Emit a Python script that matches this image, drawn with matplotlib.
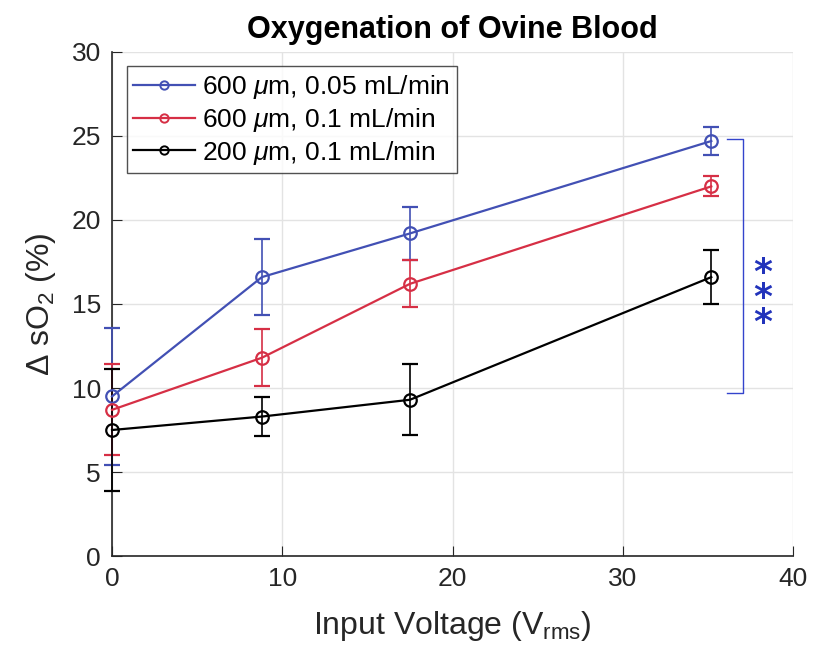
import matplotlib
matplotlib.use("Agg")
import matplotlib.pyplot as plt
from matplotlib.lines import Line2D

plt.rcParams['font.family'] = ['Liberation Sans', 'DejaVu Sans']
plt.rcParams['mathtext.fontset'] = 'custom'
plt.rcParams['mathtext.rm'] = 'Liberation Sans'
plt.rcParams['mathtext.it'] = 'Liberation Sans:italic'

# data
voltage = [0, 8.8, 17.5, 35.2]
labels = ["600 $\\mu$m, 0.05 mL/min", "600 $\\mu$m, 0.1 mL/min", "200 $\\mu$m, 0.1 mL/min"]
so2_600_005 = [9.5, 16.6, 19.2, 24.7]
err_600_005 = [4.1, 2.25, 1.6, 0.85]
so2_600_01 = [8.7, 11.8, 16.2, 22.0]
err_600_01 = [2.7, 1.7, 1.4, 0.6]
so2_200_01 = [7.5, 8.3, 9.3, 16.6]
err_200_01 = [3.65, 1.15, 2.1, 1.6]
colors = ['#4250b4', '#d62f45', '#000000']

fig = plt.figure(figsize=(8.13, 6.58), dpi=100)
ax = fig.add_axes([0.1378, 0.155, 0.8376, 0.766])

series = [so2_600_005, so2_600_01, so2_200_01]
errs = [err_600_005, err_600_01, err_200_01]
handles = []
for y, e, c, lab in zip(series, errs, colors, labels):
    ax.errorbar(voltage, y, yerr=e, color=c, marker='o', markersize=9,
                markerfacecolor='none', markeredgewidth=1.6, linewidth=1.6,
                capsize=6, elinewidth=1.2, capthick=1.2, clip_on=False, zorder=3)
    handles.append(Line2D([], [], color=c, marker='o', markersize=6,
                          markerfacecolor='none', markeredgewidth=1.4,
                          linewidth=1.6, label=lab))

# significance bracket
ax.plot([36.1, 37.05, 37.05, 36.1], [24.8, 24.8, 9.7, 9.7], color='#3344cc', lw=1.0, clip_on=False)
ax.text(38.2, 15.35, '*\n*\n*', color='#2233bb', fontsize=26, fontweight='bold',
        ha='center', va='center', linespacing=0.66, family='DejaVu Sans')

ax.set_xlim(0, 40)
ax.set_ylim(0, 30)
ax.set_xticks([0, 10, 20, 30, 40])
ax.set_yticks([0, 5, 10, 15, 20, 25, 30])
ax.grid(True, color='#e3e3e3', linewidth=1.0)
ax.set_axisbelow(True)
for s in ['top', 'right']:
    ax.spines[s].set_visible(False)
for s in ['left', 'bottom']:
    ax.spines[s].set_color('#262626')
    ax.spines[s].set_linewidth(1.2)
ax.tick_params(direction='in', length=7, labelsize=19, colors='#262626', pad=8)

ax.set_title("Oxygenation of Ovine Blood", fontsize=22, fontweight='bold', pad=10)
ax.set_xlabel("Input Voltage (V$_{\\mathrm{rms}}$)", fontsize=23, color='#262626', labelpad=13)
ax.set_ylabel("$\\Delta$ sO$_2$ (%)", fontsize=23, color='#262626', labelpad=10)

leg = ax.legend(handles=handles, loc='upper left', fontsize=19, frameon=True, fancybox=False,
                edgecolor='#262626', borderpad=0.25, labelspacing=0.18,
                handlelength=2.35, handletextpad=0.27, borderaxespad=0.55)
leg.get_frame().set_linewidth(1.0)

fig.savefig("out.png", dpi=100)
